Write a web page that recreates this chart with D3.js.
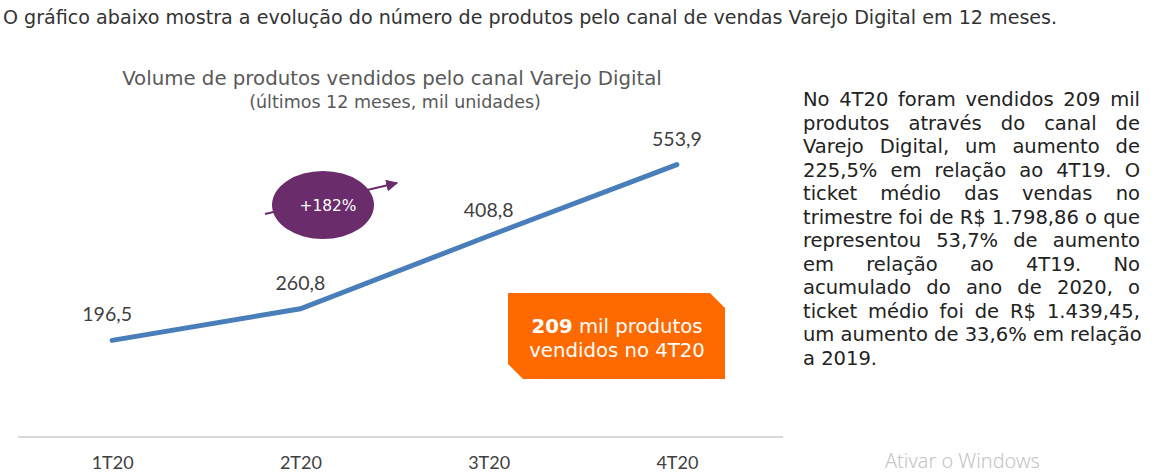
<!DOCTYPE html>
<html>
<head>
<meta charset="utf-8">
<script src="https://cdn.jsdelivr.net/npm/d3@7"></script>
<style>
  body { margin: 0; background: #fff; }
  #wrap { position: relative; width: 1154px; height: 474px; overflow: hidden; }
  #note {
    position: absolute; left: 803px; top: 88px; width: 337px;
    font-family: "DejaVu Sans", Verdana, sans-serif; font-size: 16.5px;
    line-height: 23.5px; color: #222;
  }
  #note div { text-align: justify; text-align-last: justify; white-space: nowrap; }
  #note div.last { text-align-last: left; }
</style>
</head>
<body>
<div id="wrap">
  <svg id="chart"></svg>
  <div id="note"></div>
</div>
<script>
var quarters = ['1T20', '2T20', '3T20', '4T20'];
var volumes = [196.5, 260.8, 408.8, 553.9];
var valueLabels = ['196,5', '260,8', '408,8', '553,9'];

var header = 'O gráfico abaixo mostra a evolução do número de produtos pelo canal de vendas Varejo Digital em 12 meses.';
var noteLines = [
  'No 4T20 foram vendidos 209 mil',
  'produtos através do canal de',
  'Varejo Digital, um aumento de',
  '225,5% em relação ao 4T19. O',
  'ticket médio das vendas no',
  'trimestre foi de R$ 1.798,86 o que',
  'representou 53,7% de aumento',
  'em relação ao 4T19. No',
  'acumulado do ano de 2020, o',
  'ticket médio foi de R$ 1.439,45,',
  'um aumento de 33,6% em relação',
  'a 2019.'
];

var width = 1154, height = 474;
var svg = d3.select('#chart').attr('width', width).attr('height', height);

var verdana = '"DejaVu Sans", Verdana, sans-serif';
var calibri = 'Lato, Carlito, Calibri, sans-serif';

// scale font so a text fills the width it has in the original
function fit(sel, target) {
  var fs = +sel.attr('font-size');
  var w = sel.node().getComputedTextLength();
  sel.attr('font-size', (fs * target / w).toFixed(2));
  return sel;
}

// header sentence
fit(svg.append('text')
  .attr('x', 3).attr('y', 24)
  .attr('font-family', verdana).attr('font-size', 17)
  .attr('fill', '#333')
  .text(header), 1055);

// chart title
fit(svg.append('text')
  .attr('x', 392).attr('y', 85)
  .attr('text-anchor', 'middle')
  .attr('font-family', verdana).attr('font-size', 17)
  .attr('fill', '#595959')
  .text('Volume de produtos vendidos pelo canal Varejo Digital'), 540);

fit(svg.append('text')
  .attr('x', 395).attr('y', 108)
  .attr('text-anchor', 'middle')
  .attr('font-family', verdana).attr('font-size', 14)
  .attr('fill', '#595959')
  .text('(últimos 12 meses, mil unidades)'), 292);

var x = d3.scalePoint().domain(quarters).range([18, 771]).padding(0.5);
var y = d3.scaleLinear().domain([0, 600]).range([437, 142]);

// baseline
svg.append('line')
  .attr('x1', 18).attr('x2', 783)
  .attr('y1', y(0)).attr('y2', y(0))
  .attr('stroke', '#d9d9d9').attr('stroke-width', 2);

var xAxis = svg.append('g')
  .attr('transform', `translate(0,${y(0)})`)
  .call(d3.axisBottom(x).tickSize(0).tickPadding(19));
xAxis.select('.domain').remove();
xAxis.selectAll('text')
  .attr('font-family', calibri).attr('font-size', 18)
  .attr('fill', '#404040');

var line = d3.line()
  .x((d, i) => x(quarters[i]))
  .y(d => y(d));

svg.append('path')
  .datum(volumes)
  .attr('d', line)
  .attr('fill', 'none')
  .attr('stroke', '#4a7ebb')
  .attr('stroke-width', 5)
  .attr('stroke-linecap', 'round');

svg.selectAll('.vlabel')
  .data(volumes)
  .enter().append('text')
  .attr('class', 'vlabel')
  .attr('x', (d, i) => x(quarters[i]) - (i == 0 ? 5 : 0))
  .attr('y', d => y(d) - 19)
  .attr('text-anchor', 'middle')
  .attr('font-family', calibri).attr('font-size', 19.5)
  .attr('fill', '#404040')
  .text((d, i) => valueLabels[i]);

// growth badge
var purple = '#6a2c6a';
svg.append('defs').append('marker')
  .attr('id', 'head')
  .attr('viewBox', '0 0 10 10')
  .attr('refX', 9).attr('refY', 5)
  .attr('markerWidth', 6).attr('markerHeight', 6)
  .attr('markerUnits', 'strokeWidth')
  .attr('orient', 'auto')
  .append('path').attr('d', 'M0,0L10,5L0,10z').attr('fill', purple);

svg.append('line')
  .attr('x1', 265).attr('y1', 214).attr('x2', 397).attr('y2', 183)
  .attr('stroke', purple).attr('stroke-width', 2)
  .attr('marker-end', 'url(#head)');

svg.append('ellipse')
  .attr('cx', 323).attr('cy', 205).attr('rx', 51).attr('ry', 34)
  .attr('fill', purple);

fit(svg.append('text')
  .attr('x', 328).attr('y', 211)
  .attr('text-anchor', 'middle')
  .attr('font-family', verdana).attr('font-size', 15)
  .attr('fill', '#fff')
  .text('+182%'), 57);

// orange callout
var bx = 508, by = 293, bw = 217, bh = 86, cut = 15;
svg.append('path')
  .attr('d', `M${bx},${by}H${bx + bw - cut}L${bx + bw},${by + cut}V${by + bh}H${bx + cut}L${bx},${by + bh - cut}Z`)
  .attr('fill', '#ff6a00');

var t1 = svg.append('text')
  .attr('x', 617).attr('y', 333)
  .attr('text-anchor', 'middle')
  .attr('font-family', verdana).attr('font-size', 18)
  .attr('fill', '#fff');
t1.append('tspan').attr('font-weight', 'bold').text('209');
t1.append('tspan').text(' mil produtos');
fit(t1, 171);

svg.append('text')
  .attr('x', 617).attr('y', 357)
  .attr('text-anchor', 'middle')
  .attr('font-family', verdana).attr('font-size', t1.attr('font-size'))
  .attr('fill', '#fff')
  .text('vendidos no 4T20');

// watermark
fit(svg.append('text')
  .attr('x', 885).attr('y', 468)
  .attr('font-family', '"Noto Sans", sans-serif').attr('font-weight', 300)
  .attr('font-size', 16)
  .attr('fill', '#c4c4c4')
  .text('Ativar o Windows'), 155);

// side note, sized so the longest unjustified line fills the column
var probe = svg.append('text')
  .attr('font-family', verdana).attr('font-size', 16)
  .text(noteLines[5]);
var noteSize = 16 * 337 / probe.node().getComputedTextLength();
probe.remove();

d3.select('#note')
  .style('font-size', noteSize.toFixed(2) + 'px')
  .selectAll('div')
  .data(noteLines)
  .enter().append('div')
  .attr('class', (d, i) => i == noteLines.length - 1 ? 'last' : null)
  .text(d => d);
</script>
</body>
</html>
